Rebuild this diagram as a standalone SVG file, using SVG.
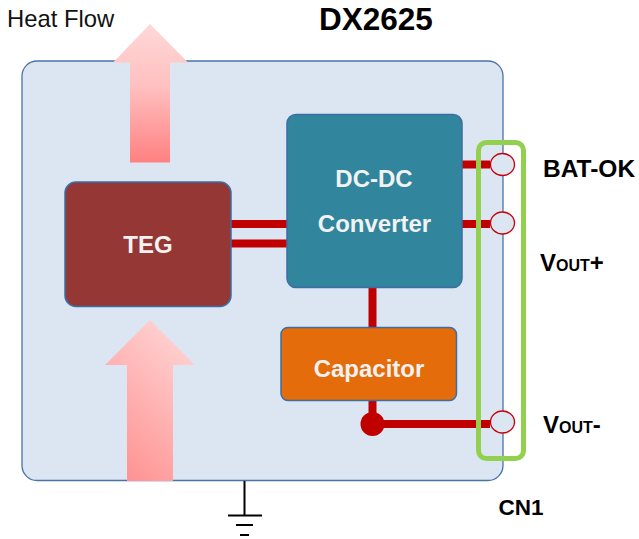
<svg xmlns="http://www.w3.org/2000/svg" width="639" height="539" viewBox="0 0 639 539">
<style>
text{font-family:"Liberation Sans",Arial,sans-serif;font-weight:700;fill:#000}
.w{fill:#f2f2f2;font-size:24px;text-anchor:middle}
.box{stroke:#3c6ea5;stroke-width:1.5}
.pin{fill:#dce6f2;stroke:#c8000a;stroke-width:1.3}
.r{stroke:#c00000;fill:none}
.g{stroke:#000;stroke-width:2;fill:none}
.v{font-size:24px}
.sub{font-size:16px}
</style>
<defs>
<linearGradient id="a1" x1="0" y1="0" x2="0" y2="1"><stop offset="0" stop-color="#ffd8d8"/><stop offset="0.45" stop-color="#ffc0c0"/><stop offset="1" stop-color="#ff8080"/></linearGradient>
<linearGradient id="a2" x1="0.75" y1="0.1" x2="0.25" y2="1"><stop offset="0" stop-color="#ffcfcf"/><stop offset="1" stop-color="#ff9292"/></linearGradient>
</defs>
<g id="board"><rect x="22" y="61" width="481" height="419.500" rx="15" fill="#dce6f2" stroke="#4a73a8" stroke-width="1.300"/></g>
<g id="heat-out"><path d="M130 162.500V62.500H113L150 24L188 62.500H170V162.500Z" fill="url(#a1)"/></g>
<g id="heat-in"><path d="M127 481V365H105L150 320L195 365H173V481Z" fill="url(#a2)"/></g>
<g id="connectors">
<path class="r" stroke-width="8" d="M231 224H287M231 243.500H287M462 164.500H490M462 224H490M372.500 287V328M372.500 401V424M372.500 424H490"/>
<circle cx="372.500" cy="424" r="12" fill="#c00000"/>
<path class="g" d="M244.500 481V515.500M228 515.500H262M236 525H253M240 535H249"/>
</g>
<g id="teg"><rect class="box" x="65" y="182" width="166" height="124.500" rx="11" fill="#953735"/><text class="w" x="148" y="253">TEG</text></g>
<g id="converter"><rect class="box" x="287" y="114.500" width="175" height="173" rx="9" fill="#31859c"/><text class="w" x="374" y="187">DC-DC</text><text class="w" x="374.500" y="232">Converter</text></g>
<g id="capacitor"><rect class="box" x="281" y="327.500" width="175.500" height="73" rx="7" fill="#e46c0a"/><text class="w" x="369" y="377">Capacitor</text></g>
<g id="cn1"><rect x="478.500" y="142.500" width="45" height="316" rx="8" fill="none" stroke="#92d050" stroke-width="5"/>
<ellipse class="pin" cx="502.500" cy="164.500" rx="12" ry="11"/><ellipse class="pin" cx="502.500" cy="223" rx="12" ry="11"/><ellipse class="pin" cx="502.500" cy="422" rx="12" ry="11"/></g>
<g id="labels">
<text x="7" y="27" style="font-weight:400;font-size:23.800px;fill:#111">Heat Flow</text>
<text x="319" y="30" style="font-size:31.500px">DX2625</text>
<text x="543" y="177" style="font-size:24.500px">BAT-OK</text>
<text class="v" x="540" y="271">V<tspan class="sub">OUT</tspan>+</text>
<text class="v" x="543" y="433">V<tspan class="sub">OUT</tspan>-</text>
<text x="498.500" y="515" style="font-size:22.500px">CN1</text>
</g>
</svg>
